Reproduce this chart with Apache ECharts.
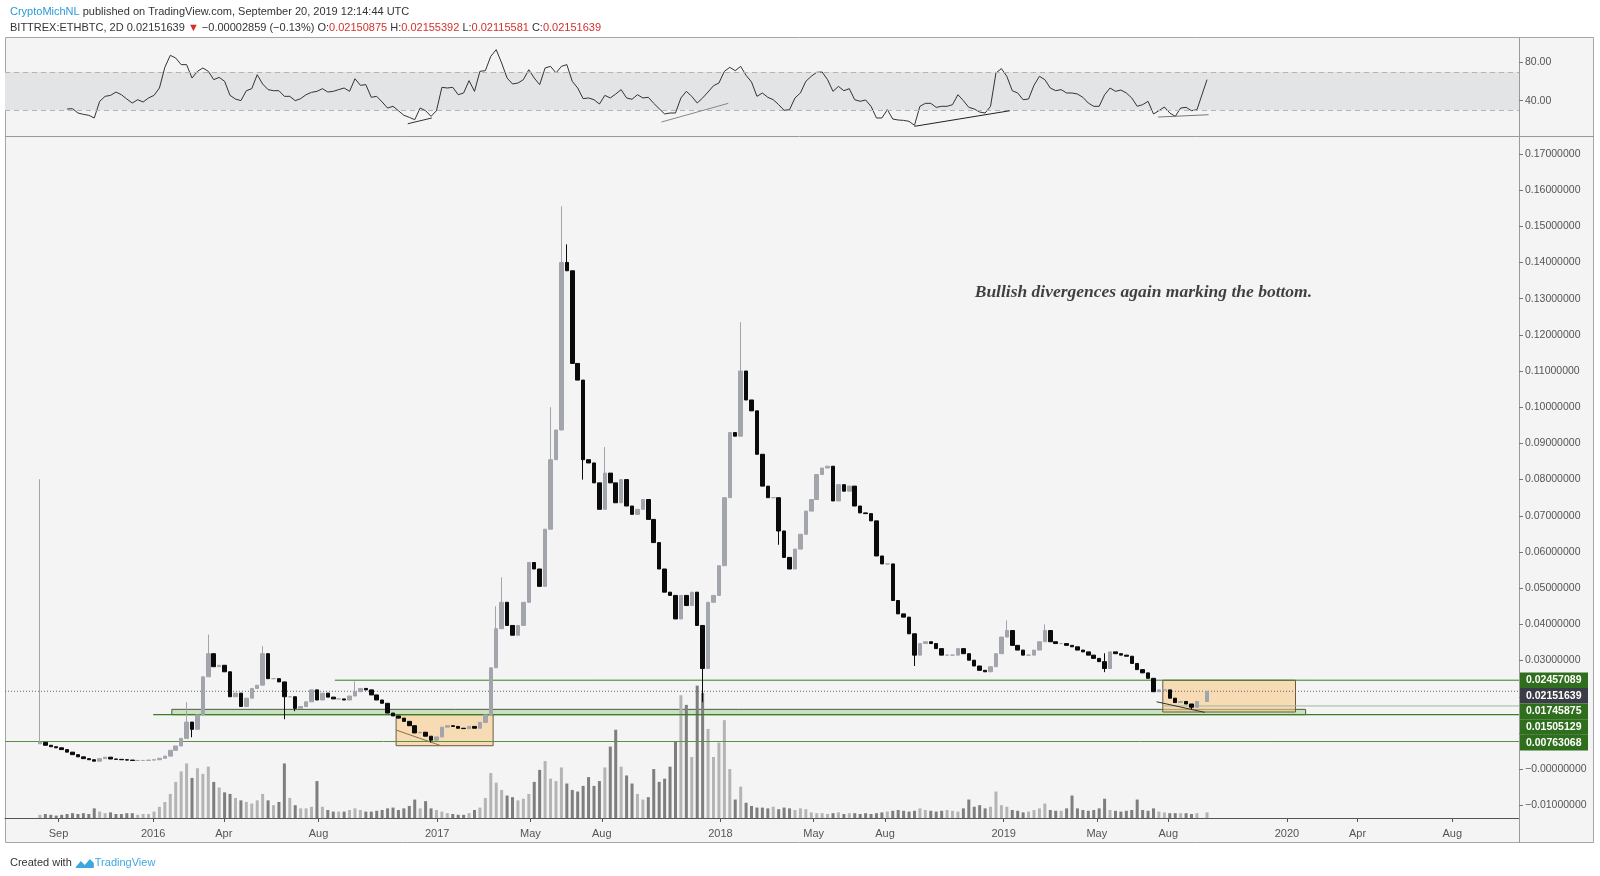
<!DOCTYPE html>
<html><head><meta charset="utf-8">
<script src="https://cdn.jsdelivr.net/npm/echarts@6/dist/echarts.min.js"></script>
<style>html,body{margin:0;padding:0;background:#fff;}#c{width:1600px;height:876px;}</style>
</head><body><div id="c"></div>
<script>
// ---------- data ----------
const startDate = '2015-08-08';   // first weekly candle
const lastDate = '2019-09-20';    // last (partial) candle
const axisStart = '2015-06-24';
const axisEnd = '2020-10-26';
const firstOpen = 0.0070;
const closes = [0.0074,0.0066,0.0062,0.0059,0.0054,0.0047,0.0040,0.0034,0.0029,0.0026,
0.0022,0.0029,0.0033,0.0028,0.0027,0.0026,0.0025,0.0024,0.0024,0.0024,
0.0025,0.0026,0.0030,0.0036,0.0052,0.0064,0.0085,0.0130,0.0110,0.0150,
0.0255,0.0319,0.0283,0.0287,0.0269,0.0200,0.0210,0.0173,0.0196,0.0223,
0.0232,0.0319,0.0250,0.0250,0.0241,0.0200,0.0200,0.0168,0.0173,0.0186,
0.0219,0.0191,0.0210,0.0199,0.0194,0.0194,0.0191,0.0202,0.0214,0.0223,
0.0219,0.0205,0.0191,0.0182,0.0155,0.0147,0.0141,0.0132,0.0120,0.0100,
0.0102,0.0091,0.0080,0.0089,0.0116,0.0120,0.0118,0.0113,0.0112,0.0118,
0.0113,0.0129,0.0150,0.0280,0.0388,0.0461,0.0397,0.0370,0.0397,0.0461,
0.0571,0.0553,0.0505,0.0663,0.0855,0.0937,0.1400,0.1377,0.1121,0.1075,
0.0855,0.0846,0.0791,0.0718,0.0818,0.0791,0.0736,0.0800,0.0727,0.0704,
0.0718,0.0745,0.0690,0.0626,0.0553,0.0489,0.0480,0.0415,0.0480,0.0452,
0.0489,0.0397,0.0278,0.0461,0.0480,0.0562,0.0750,0.0930,0.0920,0.1100,
0.1020,0.0990,0.0870,0.0782,0.0750,0.0750,0.0658,0.0585,0.0553,0.0608,
0.0649,0.0713,0.0745,0.0814,0.0832,0.0837,0.0741,0.0786,0.0768,0.0782,
0.0727,0.0708,0.0706,0.0686,0.0589,0.0567,0.0567,0.0466,0.0429,0.0420,
0.0374,0.0315,0.0347,0.0352,0.0347,0.0333,0.0315,0.0315,0.0315,0.0333,
0.0319,0.0301,0.0285,0.0273,0.0269,0.0283,0.0319,0.0365,0.0383,0.0342,
0.0329,0.0315,0.0315,0.0329,0.0352,0.0383,0.0352,0.0347,0.0347,0.0342,
0.0338,0.0329,0.0324,0.0315,0.0306,0.0297,0.0278,0.0324,0.0319,0.0315,
0.0312,0.0292,0.0275,0.0266,0.0251,0.0214,0.0219,0.0219,0.0196,0.0184,
0.0187,0.0180,0.0171,0.0187,0.02151639];
const wickHighs = [[0,0.0801],[27,0.0185],[31,0.0372],[41,0.0340],[58,0.0242],[84,0.0450],[85,0.0530],
  [94,0.1000],[96,0.1555],[97,0.1450],[104,0.0890],[129,0.1235],[130,0.1080],[178,0.0411],[185,0.0400],[196,0.0320]];
const wickLows = [[28,0.0088],[45,0.0138],[47,0.0160],[72,0.0074],[100,0.0800],[122,0.0185],[136,0.0620],
  [161,0.0285],[196,0.0268],[212,0.0166]];
const rsi = [null,null,null,null,null,31.4,31.7,27.2,25.8,24.8,
22.0,39.4,44.6,45.6,49.1,46.3,41.8,37.6,41.1,38.7,
42.9,45.6,53.3,74.9,87.4,84.6,77.7,77.7,63.7,70.7,
74.2,70.7,62.0,64.4,60.3,45.6,41.8,40.1,50.5,52.6,
67.2,57.5,51.6,50.5,50.5,44.6,44.6,40.1,42.2,46.3,
48.8,49.8,52.6,49.1,49.8,51.6,53.3,49.8,63.0,56.1,
56.8,43.6,44.6,38.7,32.4,34.2,29.6,24.8,22.7,20.2,
32.4,29.6,23.7,29.6,54.0,53.3,54.0,46.3,48.1,61.0,
49.8,70.7,71.4,86.4,93.3,79.4,63.7,57.5,58.5,62.0,
72.4,63.7,56.8,74.2,75.9,69.0,75.9,77.7,60.3,53.3,
42.2,42.9,41.1,36.6,45.6,42.9,47.0,51.6,42.9,41.5,
46.3,42.9,43.6,37.3,31.7,26.2,27.2,27.2,42.9,49.8,
44.6,37.6,42.9,49.1,55.7,58.5,70.7,74.9,71.4,75.9,
66.5,59.6,44.6,48.1,43.6,41.1,35.9,30.0,30.7,42.9,
48.1,60.3,65.5,69.7,70.0,62.0,49.8,55.0,50.5,52.6,
41.1,39.4,40.8,34.2,22.0,22.0,30.7,20.9,19.9,19.5,
18.5,14.3,34.2,37.3,37.3,33.1,34.2,34.2,35.9,46.3,
40.1,33.1,31.4,28.2,27.2,34.2,69.0,73.5,65.5,50.5,
48.1,41.1,41.8,56.1,65.5,62.0,53.3,50.5,51.6,48.1,
48.1,47.0,43.6,37.6,34.2,34.2,46.3,53.3,49.8,51.2,
48.1,42.9,34.2,35.9,39.4,26.2,29.6,33.5,27.2,23.7,
32.4,33.1,29.6,30.7,62.0];
const volume = [4,5,4,3,4,5,6,5,6,5,
12,8,6,7,5,5,6,6,4,5,5,
8,14,20,30,45,58,68,50,62,55,
64,45,38,32,30,25,22,20,18,22,
30,22,16,20,68,25,16,12,12,14,
46,14,10,8,8,8,10,12,10,8,
8,9,10,12,13,10,12,15,23,12,
21,12,10,8,6,5,4,4,6,10,
13,25,56,44,35,28,26,22,24,30,
45,60,71,49,46,63,43,35,33,40,
51,40,46,63,89,110,64,53,43,30,
23,26,61,45,49,64,95,153,141,76,
165,156,111,76,94,122,61,23,39,19,
15,13,13,12,14,11,13,12,10,12,11,
7,6,6,5,6,7,5,6,6,5,6,5,6,7,
8,9,10,9,8,9,12,10,9,8,9,10,9,8,12,
23,14,16,12,14,33,16,14,10,9,
7,8,10,12,18,10,9,9,12,28,
12,10,9,10,12,24,10,9,8,9,
10,23,10,9,12,8,7,6,6,6,6,5,6,7];
const priceTicks = [-0.01,0,0.01,0.02,0.03,0.04,0.05,0.06,0.07,0.08,0.09,0.10,0.11,0.12,0.13,0.14,0.15,0.16,0.17];
const rsiTicks = [40, 80];
const xTickDates = ['2015-09-01','2016-01-01','2016-04-01','2016-08-01','2017-01-01','2017-05-01','2017-08-01',
  '2018-01-01','2018-05-01','2018-08-01','2019-01-01','2019-05-01','2019-08-01','2020-01-01','2020-04-01','2020-08-01'];
const xTickNames = ['Sep','2016','Apr','Aug','2017','May','Aug','2018','May','Aug','2019','May','Aug','2020','Apr','Aug'];
// horizontal levels: [value, from date, to date]
const levelTop = [0.02457089, '2016-08-22', axisEnd];
const lastPrice = [0.02151639, axisStart, axisEnd];
const level3 = [0.01745875, '2019-07-25', axisEnd];
const level4 = [0.01505129, '2016-01-01', axisEnd];
const level5 = [0.00763068, axisStart, axisEnd];
const greenZone = [['2016-01-25', 0.01505129], ['2020-01-25', 0.01652]];
const boxes = [[['2016-11-09', 0.00647], ['2017-03-14', 0.01505]], [['2019-07-25', 0.01578], ['2020-01-12', 0.02457089]]];
const priceDiv = [[['2016-11-09', 0.0108], ['2017-01-06', 0.00647]], [['2019-07-17', 0.01862], ['2019-09-17', 0.01569]]];
const rsiDiv = [[['2016-11-24', 16.0], ['2016-12-25', 22.0]], [['2017-10-17', 17.8], ['2018-01-11', 37.3]],
  [['2018-09-08', 13.3], ['2019-01-09', 29.6]], [['2019-07-19', 23.0], ['2019-09-22', 25.4]]];
const rsiDivColors = ['#333', '#888', '#222', '#777'];
const noteText = 'Bullish divergences again marking the bottom.';
const notePos = ['2019-06-30', 0.1316];
const axisLabelVals = [0.02457089, 0.02151639, 0.01745875, 0.01505129, 0.00763068];
const axisLabelColors = ['#2f6e1c', '#3a3d48', '#2f6e1c', '#2f6e1c', '#2f6e1c'];

// ---------- build ----------
function ts(s) { const p = s.split('-').map(Number); return Date.UTC(p[0], p[1] - 1, p[2]); }
const sp = startDate.split('-').map(Number);
const dates = closes.map((_, i) => i === closes.length - 1 ? ts(lastDate) : Date.UTC(sp[0], sp[1] - 1, sp[2] + 7 * i));
const hiMap = new Map(wickHighs), loMap = new Map(wickLows);
const candles = [], vols = [];
closes.forEach((c, i) => {
  const o = i ? closes[i - 1] : firstOpen;
  let hi = Math.max(o, c), lo = Math.min(o, c);
  if (hiMap.has(i)) hi = Math.max(hi, hiMap.get(i));
  if (loMap.has(i)) lo = Math.min(lo, loMap.get(i));
  candles.push([dates[i], o, c, lo, hi]);
  vols.push({ value: [dates[i], volume[i]], itemStyle: { color: c >= o ? '#b4b4b4' : '#7e7e7e' } });
});
const rsiData = [];
rsi.forEach((v, i) => { if (v != null) rsiData.push([dates[i], v]); });
const tickTs = xTickDates.map(ts);
const tickName = new Map(tickTs.map((t, i) => [t, xTickNames[i]]));
const xmin = ts(axisStart), xmax = ts(axisEnd);
const FONT = 'Liberation Sans';
const logoSvg = 'data:image/svg+xml;utf8,' + encodeURIComponent(
  '<svg xmlns="http://www.w3.org/2000/svg" width="20" height="12" viewBox="0 0 20 12">' +
  '<path d="M1 10 L6 4 L10 8 L15 2 L19 6 L19 11 L1 11 Z" fill="#3fa7e0"/></svg>');

function priceFmt(v) {
  if (Math.abs(v) < 1e-12) return '\u22120.00000000';
  return v < 0 ? '\u2212' + (-v).toFixed(8) : v.toFixed(8);
}
function seg(lv, color, type, width) {
  return { type: 'line', xAxisIndex: 1, yAxisIndex: 1, symbol: 'none', silent: true, z: 4, animation: false,
    data: [[ts(lv[1]), lv[0]], [ts(lv[2]), lv[0]]], lineStyle: { color, width: width || 1, type: type || 'solid' } };
}
function twoPt(pts, color, xi, yi) {
  return { type: 'line', xAxisIndex: xi, yAxisIndex: yi, symbol: 'none', silent: true, z: 5, animation: false,
    data: pts.map(p => [ts(p[0]), p[1]]), lineStyle: { color, width: 1 } };
}
const txt = (c, extra) => Object.assign({ color: c, fontSize: 11, fontFamily: FONT, fontWeight: 'normal' }, extra || {});

const series = [
  { type: 'line', xAxisIndex: 0, yAxisIndex: 0, data: rsiData, showSymbol: false, symbol: 'none', z: 3,
    lineStyle: { color: '#333', width: 1 }, silent: true,
    markArea: { silent: true, itemStyle: { color: '#e3e4e6' }, data: [[{ yAxis: 30 }, { yAxis: 70 }]] },
    markLine: { silent: true, symbol: 'none', label: { show: false }, lineStyle: { color: '#b4b4b4', type: [5, 4], width: 1 },
      data: [{ yAxis: 70 }, { yAxis: 30 }] } },
  ...rsiDiv.map((d, i) => twoPt(d, rsiDivColors[i], 0, 0)),
  { type: 'line', xAxisIndex: 1, yAxisIndex: 1, data: [], z: 1, silent: true,
    markArea: { silent: true, data: [
      [{ coord: [ts(greenZone[0][0]), greenZone[0][1]], itemStyle: { color: 'rgba(150,200,130,0.45)', borderColor: '#4b5d40', borderWidth: 1 } },
       { coord: [ts(greenZone[1][0]), greenZone[1][1]] }],
      ...boxes.map(b => [{ coord: [ts(b[0][0]), b[0][1]], itemStyle: { color: 'rgba(247,198,130,0.55)', borderColor: '#6e5c3e', borderWidth: 1 } },
        { coord: [ts(b[1][0]), b[1][1]] }])
    ] } },
  { type: 'bar', xAxisIndex: 1, yAxisIndex: 2, data: vols, barWidth: 3, z: 2, silent: true },
  seg(levelTop, '#3a7f22', 'solid', 1),
  seg(lastPrice, '#666', [1, 2], 1),
  seg(level3, '#9fb89c', 'solid', 1),
  seg(level4, '#3a7f22', 'solid', 1.2),
  seg(level5, '#5a8f48', 'solid', 1),
  { type: 'candlestick', xAxisIndex: 1, yAxisIndex: 1, data: candles, barWidth: 4, z: 6, silent: true,
    itemStyle: { color: '#a2a5ac', color0: '#0a0a0a', borderColor: '#a2a5ac', borderColor0: '#0a0a0a', borderWidth: 1 } },
  ...priceDiv.map((d, i) => twoPt(d, i ? '#333' : '#8b6f47', 1, 1)),
  { type: 'scatter', xAxisIndex: 1, yAxisIndex: 1, data: [[ts(notePos[0]), notePos[1]]], symbolSize: 0, z: 8, silent: true,
    label: { show: true, position: 'inside', formatter: noteText, color: '#111', fontFamily: 'Liberation Serif',
      fontStyle: 'italic', fontWeight: 'bold', fontSize: 17.5 } }
];

const option = {
  animation: false,
  backgroundColor: '#fff',
  title: [
    { left: 5, top: 1, text: '{a|CryptoMichNL}{b| published on TradingView.com, September 20, 2019 12:14:44 UTC}',
      textStyle: { fontWeight: 'normal', rich: { a: txt('#2b9ad8'), b: txt('#333') } } },
    { left: 5, top: 17, text: '{b|BITTREX:ETHBTC, 2D 0.02151639 }{r|\u25BC}{b| \u22120.00002859 (\u22120.13%) O:}{r|0.02150875}{b| H:}{r|0.02155392}{b| L:}{r|0.02115581}{b| C:}{r|0.02151639}',
      textStyle: { fontWeight: 'normal', rich: { b: txt('#333'), r: txt('#d3302b') } } },
    { left: 5, top: 852, text: '{b|Created with }{l|}{t|TradingView}',
      textStyle: { fontWeight: 'normal', rich: { b: txt('#333'), l: { width: 20, height: 12, backgroundColor: { image: logoSvg } }, t: txt('#3fa7e0') } } }
  ],
  grid: [
    { left: 5, right: 81, top: 38, height: 98 },
    { left: 5, right: 81, top: 136, height: 682 }
  ],
  xAxis: [
    { type: 'value', gridIndex: 0, min: xmin, max: xmax, show: false, splitLine: { show: false } },
    { type: 'value', gridIndex: 1, min: xmin, max: xmax, splitLine: { show: false },
      axisLine: { show: true, onZero: false, lineStyle: { color: '#555', width: 1 } },
      axisTick: { show: true, length: 4, customValues: tickTs, lineStyle: { color: '#555' } },
      axisLabel: { customValues: tickTs, margin: 10, fontFamily: FONT, fontSize: 11, color: '#555',
        formatter: v => tickName.get(v) || '' } }
  ],
  yAxis: [
    { type: 'value', gridIndex: 0, position: 'right', min: 3.2, max: 105.5, splitLine: { show: false },
      axisLine: { show: true, lineStyle: { color: '#9a9a9a' } },
      axisTick: { show: true, length: 4, customValues: rsiTicks, lineStyle: { color: '#777' } },
      axisLabel: { customValues: rsiTicks, margin: 6, fontFamily: FONT, fontSize: 10.5, color: '#555', formatter: v => v.toFixed(2) } },
    { type: 'value', gridIndex: 1, position: 'right', min: -0.0135, max: 0.17494, splitLine: { show: false },
      axisLine: { show: true, lineStyle: { color: '#9a9a9a' } },
      axisTick: { show: true, length: 4, customValues: priceTicks, lineStyle: { color: '#777' } },
      axisLabel: { customValues: priceTicks, margin: 6, fontFamily: FONT, fontSize: 10.5, color: '#555', formatter: priceFmt } },
    { type: 'value', gridIndex: 1, min: 0, max: 850, show: false, splitLine: { show: false } }
  ],
  series
};

const chart = echarts.init(document.getElementById('c'), null, { renderer: 'canvas' });
chart.setOption(option);

// frame and right-axis price tags
const g = [
  { type: 'rect', z: -100, silent: true, shape: { x: 5.5, y: 37.5, width: 1588, height: 805 }, style: { fill: '#f4f4f4', stroke: '#a6a6a6', lineWidth: 1 } },
  { type: 'line', z: 50, silent: true, shape: { x1: 5, y1: 136.5, x2: 1594, y2: 136.5 }, style: { stroke: '#9a9a9a', lineWidth: 1 } },
  { type: 'line', z: 50, silent: true, shape: { x1: 1519.5, y1: 818, x2: 1519.5, y2: 843 }, style: { stroke: '#9a9a9a', lineWidth: 1 } }
];
const H = 15.6;
let prev = -Infinity;
axisLabelVals.forEach((v, i) => {
  let y = chart.convertToPixel({ yAxisIndex: 1 }, v);
  y = Math.max(y, prev + H); prev = y;
  g.push({ type: 'rect', z: 60, silent: true, shape: { x: 1520, y: y - H / 2, width: 68, height: H }, style: { fill: axisLabelColors[i] } });
  g.push({ type: 'text', z: 61, silent: true, style: { x: 1526, y: y, text: priceFmt(v), fill: '#fff', font: 'bold 10.5px "Liberation Sans"', verticalAlign: 'middle' } });
});
chart.setOption({ graphic: g });
</script></body></html>
